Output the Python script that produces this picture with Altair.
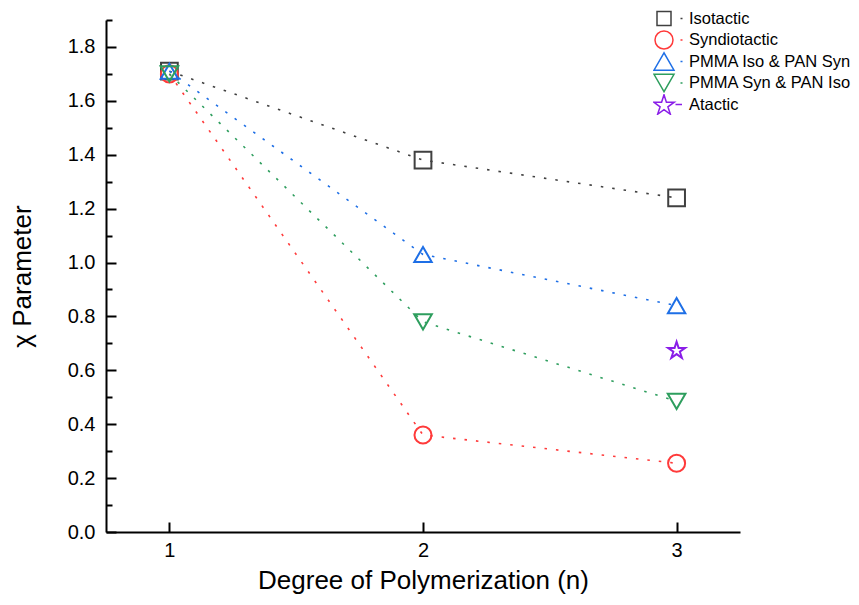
import math
import altair as alt
import pandas as pd

# ---------------- data ----------------
series_names = ["Isotactic", "Syndiotactic", "PMMA Iso & PAN Syn", "PMMA Syn & PAN Iso", "Atactic"]
n_values = [1, 2, 3]
isotactic = [1.71, 1.38, 1.24]
syndiotactic = [1.70, 0.36, 0.255]
pmma_iso_pan_syn = [1.71, 1.03, 0.84]
pmma_syn_pan_iso = [1.70, 0.78, 0.485]
atactic_n = [3]
atactic = [0.676]

x_ticks = [1, 2, 3]
y_major = [0.0, 0.2, 0.4, 0.6, 0.8, 1.0, 1.2, 1.4, 1.6, 1.8]
y_all_ticks = [0.0, 0.1, 0.2, 0.3, 0.4, 0.5, 0.6, 0.7, 0.8, 0.9,
               1.0, 1.1, 1.2, 1.3, 1.4, 1.5, 1.6, 1.7, 1.8, 1.9]

colors = ["#404040", "#ff3a3a", "#1e6fe6", "#2e9e5e", "#8a1ee8"]

rows = []
for name, vals in zip(series_names[:4], [isotactic, syndiotactic, pmma_iso_pan_syn, pmma_syn_pan_iso]):
    for n, v in zip(n_values, vals):
        rows.append({"series": name, "n": n, "chi": v})
for n, v in zip(atactic_n, atactic):
    rows.append({"series": "Atactic", "n": n, "chi": v})
df = pd.DataFrame(rows)
df_lines = df[df["series"] != "Atactic"]
df_legend = pd.DataFrame({"series": series_names})


# ---------------- shapes ----------------
def star_path(R, inner_ratio=0.38, dx=0.0, dy=0.0):
    pts = []
    for i in range(10):
        ang = math.radians(-90 + 36 * i)
        r = R if i % 2 == 0 else R * inner_ratio
        pts.append((r * math.cos(ang) + dx, r * math.sin(ang) + dy))
    return "M" + "L".join(f"{x:.4f},{y:.4f}" for x, y in pts) + "Z"


plot_star = star_path(1.0, dy=0.095)
plot_shapes = ["square", "circle", "triangle-up", "triangle-down", plot_star]
plot_sizes = [280, 324, 441, 441, 850]

# legend symbols: marker with short line stubs on both sides (unit = 10px)
dots = "M-1.85,0L-1.65,0M1.65,0L1.85,0"
dashes = "M-1.8,0L-1.15,0M1.15,0L1.8,0"
leg_square = dots + "M-0.7,-0.7L0.7,-0.7L0.7,0.7L-0.7,0.7Z"
leg_circle = dots + "M-0.9,0A0.9,0.9 0 1,0 0.9,0A0.9,0.9 0 1,0 -0.9,0Z"
leg_tri_up = dots + "M0,-0.87L-1,0.87L1,0.87Z"
leg_tri_down = dots + "M0,0.87L-1,-0.87L1,-0.87Z"
leg_star = dashes + star_path(1.08, dy=0.1)
legend_shapes = [leg_square, leg_circle, leg_tri_up, leg_tri_down, leg_star]

# ---------------- chart ----------------
W, H = 634, 512
FONT = "Liberation Sans"
xs = alt.Scale(domain=[0.75, 3.25], nice=False, zero=False)
ys = alt.Scale(domain=[0, 1.9], nice=False, zero=False)
color_scale = alt.Scale(domain=series_names, range=colors)

lines = alt.Chart(df_lines).mark_line(strokeWidth=1.6, strokeDash=[2.5, 9]).encode(
    x=alt.X("n:Q", scale=xs, axis=alt.Axis(
        orient="bottom", title="Degree of Polymerization (n)", values=x_ticks, format="d",
        ticks=False, labelPadding=8, titlePadding=7, grid=False,
        domainColor="black", domainWidth=2, labelFont=FONT, labelFontSize=20,
        labelColor="black", titleFont=FONT, titleFontSize=26, titleFontWeight="normal",
        titleColor="black")),
    y=alt.Y("chi:Q", scale=ys, axis=alt.Axis(
        orient="left", title="χ Parameter", values=y_major, format=".1f",
        ticks=False, labelPadding=11, titlePadding=32, grid=False,
        domainColor="black", domainWidth=2, labelFont=FONT, labelFontSize=20,
        labelColor="black", titleFont=FONT, titleFontSize=26, titleFontWeight="normal",
        titleColor="black")),
    color=alt.Color("series:N", scale=color_scale, legend=None),
    detail="series:N",
)

points = alt.Chart(df).mark_point(filled=False, strokeWidth=2, opacity=1).encode(
    x=alt.X("n:Q", scale=xs, axis=alt.Axis(
        orient="top", offset=-H, values=x_ticks, labels=False, domain=False,
        tickSize=10, tickWidth=2, tickColor="black", title=None, grid=False)),
    y=alt.Y("chi:Q", scale=ys, axis=alt.Axis(
        orient="right", offset=-W, values=y_all_ticks, labels=False, domain=False,
        tickSize={"condition": {"test": "round(datum.value*10) % 2 == 0", "value": 10}, "value": 6},
        tickWidth=2, tickColor="black", title=None, grid=False)),
    color=alt.Color("series:N", scale=color_scale, legend=None),
    shape=alt.Shape("series:N", scale=alt.Scale(domain=series_names, range=plot_shapes), legend=None),
    size=alt.Size("series:O", scale=alt.Scale(domain=series_names, range=plot_sizes), legend=None),
)

leg = alt.Legend(
    orient="none", legendX=547, legendY=-12, title=None, padding=0,
    labelFont=FONT, labelFontSize=16.5, labelColor="black", labelOffset=14, labelLimit=400,
    symbolSize=400, symbolStrokeWidth=1.5, rowPadding=0.5, clipHeight=21,
)

legend_layer = alt.Chart(df_legend).transform_filter("false").mark_point(
    filled=False, strokeWidth=1.5, size=400, opacity=1
).encode(
    color=alt.Color("series:N", scale=color_scale, legend=leg),
    shape=alt.Shape("series:N", scale=alt.Scale(domain=series_names, range=legend_shapes), legend=leg),
)

chart = alt.layer(lines, points, legend_layer).resolve_scale(
    color="independent", shape="independent", size="independent"
).resolve_axis(
    x="independent", y="independent"
).properties(
    width=W, height=H,
    padding={"left": 98, "top": 12, "right": 111, "bottom": 64},
    autosize=alt.AutoSizeParams(type="none"),
    background="white",
).configure_view(stroke=None)

chart.save("out.html", embed_options={"renderer": "svg", "actions": False})
